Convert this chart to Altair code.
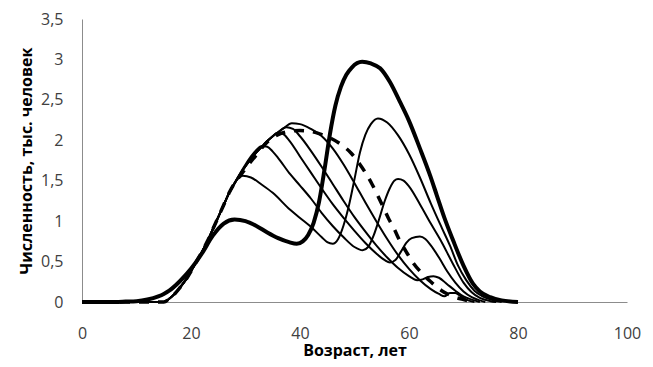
import altair as alt
import pandas as pd

# ---- axis ticks ----
X_TICKS = [0, 20, 40, 60, 80, 100]
Y_TICKS = [0, 0.5, 1, 1.5, 2, 2.5, 3, 3.5]

# ---- shared rising part of the thin / dashed curves ----
RISE_AGE = [0, 15, 16, 17, 18, 19, 20, 21, 22, 23, 24, 25, 26, 27, 28]
RISE_VAL = [0, 0, 0.04, 0.1, 0.18, 0.27, 0.38, 0.5, 0.62, 0.75, 0.9, 1.05, 1.2, 1.35, 1.47]

# ---- thick (initial) curve ----
THICK_AGE = [0, 5, 8, 10, 12, 14, 15, 16, 18, 20, 22, 24, 26, 28, 30, 32, 34, 36, 38,
             39.4, 40.5, 41.5, 42.5, 43.5, 44.5, 45.5, 46.5, 47.5, 48.5, 49.5, 51.4,
             53, 54.7, 56.5, 58.3, 60, 62, 63.9, 65.1, 66.5, 68.1, 70, 71.7, 73, 74.9, 77, 80]
THICK_VAL = [0, 0, 0.005, 0.01, 0.03, 0.07, 0.1, 0.14, 0.26, 0.41, 0.6, 0.82, 0.97, 1.02,
             1.0, 0.94, 0.86, 0.79, 0.74, 0.72, 0.75, 0.83, 0.98, 1.24, 1.64, 2.08, 2.43,
             2.66, 2.81, 2.9, 2.97, 2.95, 2.89, 2.72, 2.48, 2.24, 1.9, 1.56, 1.32, 1.04,
             0.76, 0.45, 0.23, 0.13, 0.06, 0.02, 0]

# ---- thin curves ----
T1_AGE = RISE_AGE + [29.5, 31, 33, 35, 38.2, 40, 42, 44, 45, 46, 47, 48, 49, 50, 51, 52, 53,
                     54.3, 56, 58, 60, 62, 64, 66, 67.5, 69, 70.5, 72, 73.5, 75, 77]
T1_VAL = RISE_VAL + [1.56, 1.54, 1.45, 1.35, 1.14, 1.04, 0.93, 0.8, 0.74, 0.72, 0.78, 0.95,
                     1.2, 1.52, 1.85, 2.07, 2.2, 2.27, 2.22, 2.06, 1.83, 1.54, 1.22, 0.92,
                     0.7, 0.45, 0.27, 0.14, 0.07, 0.03, 0]

T2_AGE = RISE_AGE + [29, 30, 31, 32, 33, 34, 35, 36, 38.2, 40, 42, 44, 46, 48, 50, 51.5, 52.5,
                     53.5, 54.5, 55.5, 56.5, 57.3, 58, 59, 60, 62, 64, 66, 68, 70, 71.5, 73, 75, 76]
T2_VAL = RISE_VAL + [1.59, 1.7, 1.8, 1.88, 1.93, 1.92, 1.86, 1.78, 1.58, 1.44, 1.28, 1.1, 0.94,
                     0.8, 0.68, 0.64, 0.68, 0.82, 1.02, 1.24, 1.41, 1.5, 1.52, 1.5, 1.43, 1.21,
                     0.97, 0.74, 0.48, 0.24, 0.12, 0.05, 0.01, 0]

T3_AGE = RISE_AGE + [29, 30, 31, 32, 33, 34, 35, 35.8, 36.8, 38, 40, 42, 44, 46, 48, 50, 52, 54,
                     55.5, 56.5, 57.5, 58.5, 59.5, 60.5, 62, 63, 64, 65.5, 67, 68.5, 70, 71.5, 73, 74]
T3_VAL = RISE_VAL + [1.58, 1.68, 1.77, 1.85, 1.92, 1.99, 2.05, 2.09, 2.08, 2.0, 1.8, 1.6, 1.4,
                     1.21, 1.04, 0.88, 0.73, 0.6, 0.52, 0.49, 0.52, 0.62, 0.73, 0.79, 0.81,
                     0.78, 0.7, 0.55, 0.38, 0.24, 0.13, 0.06, 0.02, 0]

T4_AGE = RISE_AGE + [29, 30, 31, 32, 33, 34, 35, 36, 37.5, 38.7, 40, 42, 44, 46, 48, 50, 52, 54,
                     56, 58, 60, 61.5, 62.5, 63.5, 64.5, 65.5, 67, 68.5, 70, 71.5, 73]
T4_VAL = RISE_VAL + [1.58, 1.68, 1.77, 1.85, 1.92, 1.99, 2.05, 2.1, 2.16, 2.14, 2.05, 1.87,
                     1.67, 1.46, 1.25, 1.05, 0.87, 0.7, 0.55, 0.42, 0.32, 0.27, 0.28, 0.31,
                     0.32, 0.3, 0.22, 0.14, 0.07, 0.03, 0]

T5_AGE = RISE_AGE + [29, 30, 31, 32, 33, 34, 35, 36, 37, 38.5, 40, 42, 44, 46, 48, 50, 52, 54,
                     56, 58, 60, 62, 64, 65.5, 66.5, 67.5, 68.5, 69.5, 70.5, 72]
T5_VAL = RISE_VAL + [1.58, 1.68, 1.77, 1.85, 1.92, 1.99, 2.05, 2.1, 2.15, 2.21, 2.2, 2.14, 2.05,
                     1.9, 1.7, 1.47, 1.23, 1.0, 0.78, 0.58, 0.41, 0.27, 0.16, 0.1, 0.07, 0.11,
                     0.11, 0.07, 0.03, 0]

# ---- dashed (final) curve ----
DASH_AGE = RISE_AGE + [29, 30, 32, 34, 36, 38, 40, 42, 44, 45.5, 47.5, 49.4, 51, 52, 53.2, 54.3,
                       55.3, 56.2, 57.3, 58.3, 59.5, 60.7, 62.3, 64, 66, 68, 70, 72]
DASH_VAL = RISE_VAL + [1.56, 1.65, 1.82, 1.98, 2.07, 2.11, 2.12, 2.11, 2.07, 2.03, 1.95, 1.84,
                       1.7, 1.6, 1.46, 1.31, 1.17, 1.04, 0.9, 0.76, 0.62, 0.49, 0.36, 0.25,
                       0.14, 0.07, 0.03, 0]

series = [
    ("t1", "thin", T1_AGE, T1_VAL),
    ("t2", "thin", T2_AGE, T2_VAL),
    ("t3", "thin", T3_AGE, T3_VAL),
    ("t4", "thin", T4_AGE, T4_VAL),
    ("t5", "thin", T5_AGE, T5_VAL),
    ("dash", "dash", DASH_AGE, DASH_VAL),
    ("thick", "thick", THICK_AGE, THICK_VAL),
]
rows = []
for name, style, ages, vals in series:
    for i, (a, v) in enumerate(zip(ages, vals)):
        rows.append({"series": name, "style": style, "age": a, "val": v, "order": i})
df = pd.DataFrame(rows)

FONT = "Open Sans"

x_enc = alt.X(
    "age:Q",
    scale=alt.Scale(domain=[0, 100], nice=False, zero=False),
    axis=alt.Axis(
        values=X_TICKS, title="Возраст, лет", grid=False, ticks=False, tickSize=0,
        labelFont=FONT, labelFontSize=16, labelColor="#404040", labelPadding=36,
        labelBaseline="alphabetic", labelFlush=False,
        domainColor="#8c8c8c", domainWidth=1,
        titleFont=FONT, titleFontSize=16, titleFontWeight="bold", titleColor="#000000",
        titleBaseline="alphabetic", titleY=53,
    ),
)
y_enc = alt.Y(
    "val:Q",
    scale=alt.Scale(domain=[0, 3.5], nice=False),
    axis=alt.Axis(
        values=Y_TICKS, title="Численность, тыс. человек", grid=False, ticks=False, tickSize=0,
        labelExpr="replace(format(datum.value, '~g'), '.', ',')",
        labelFont=FONT, labelFontSize=16, labelColor="#404040", labelPadding=19,
        labelFlush=False,
        domainColor="#8c8c8c", domainWidth=1,
        titleFont=FONT, titleFontSize=16, titleFontWeight="bold", titleColor="#000000",
        titleBaseline="middle", titleX=-56,
    ),
)

base = alt.Chart(df)
thin = base.transform_filter(alt.datum.style == "thin").mark_line(
    color="black", strokeWidth=2, interpolate="monotone"
).encode(x=x_enc, y=y_enc, detail="series:N", order="order:Q")
dash = base.transform_filter(alt.datum.style == "dash").mark_line(
    color="black", strokeWidth=3.5, strokeDash=[10, 9], interpolate="monotone"
).encode(x=x_enc, y=y_enc, order="order:Q")
thick = base.transform_filter(alt.datum.style == "thick").mark_line(
    color="black", strokeWidth=4, interpolate="monotone"
).encode(x=x_enc, y=y_enc, order="order:Q")

chart = alt.layer(thin, dash, thick).properties(
    width=545, height=283,
    autosize=alt.AutoSizeParams(type="none"),
    padding={"left": 74, "top": 11, "right": 18, "bottom": 57},
    background="white",
).configure_view(stroke=None)

chart.save("out.html", embed_options={"renderer": "svg", "actions": False})
